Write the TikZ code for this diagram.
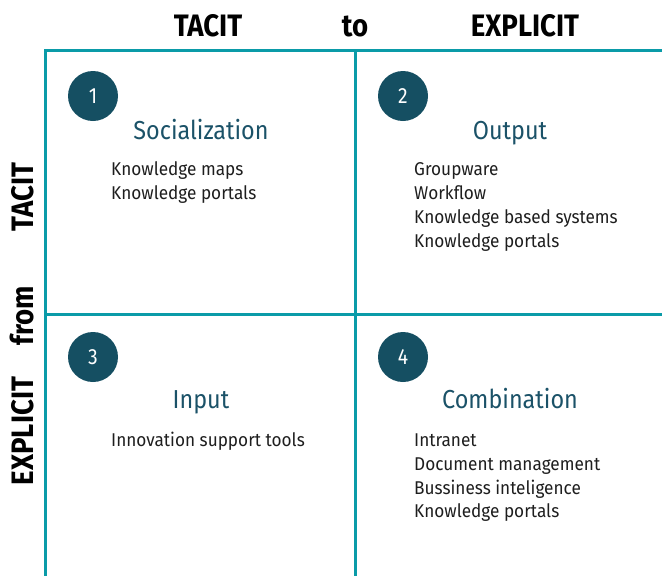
\documentclass[tikz,border=0pt]{standalone}
\usepackage{fontspec}
\setmainfont{Fira Sans}[FakeStretch=0.88]
\newfontfamily\headfont{Fira Sans}[FakeStretch=0.89,UprightFont=* Bold]
\newfontfamily\titlefont{Fira Sans}[FakeStretch=0.9]
\newfontfamily\itemfont{Fira Sans}[FakeStretch=0.93]
\definecolor{gridteal}{HTML}{0A9BA8}
\definecolor{badge}{HTML}{154F62}
\definecolor{titleblue}{HTML}{1B5268}
\definecolor{itemgray}{HTML}{1E1E1E}
\tikzset{
  gridline/.style={gridteal,line width=3pt},
  axislabel/.style={font=\headfont\fontsize{31}{31}\selectfont,text=black,inner sep=0pt},
  numbadge/.style={circle,fill=badge,minimum size=50pt,inner sep=0pt,text=white,font=\fontsize{22}{22}\selectfont},
  quadtitle/.style={font=\titlefont\fontsize{26}{26}\selectfont,text=titleblue,inner sep=0pt,anchor=base},
  item/.style={font=\itemfont\fontsize{18.5}{20}\selectfont,text=itemgray,inner sep=0pt,anchor=base west},
}
\begin{document}
\begin{tikzpicture}[x=1pt,y=-1pt]
\useasboundingbox (0,0) rectangle (662,576);
% grid
\coordinate (tl) at (45,50);
\coordinate (tr) at (662,50);
\coordinate (bl) at (45,576);
\coordinate (mt) at (355,50);
\coordinate (mb) at (355,576);
\coordinate (ml) at (45,314);
\coordinate (mr) at (662,314);
\draw[gridline] (tr) -- (tl) -- (bl);
\draw[gridline] (mt) -- (mb);
\draw[gridline] (ml) -- (mr);
% axis labels
\node[axislabel,anchor=base] (xt) at (208,36) {TACIT};
\node[axislabel,anchor=base] (xto) at (355,36) {to};
\node[axislabel,anchor=base] (xe) at (525,36) {EXPLICIT};
\node[axislabel,rotate=90,anchor=base] (yt) at (33,197) {TACIT};
\node[axislabel,rotate=90,anchor=base] (yf) at (33,316) {from};
\node[axislabel,rotate=90,anchor=base] (ye) at (33,431) {EXPLICIT};
% badges
\node[numbadge] (n1) at (93,96) {1};
\node[numbadge] (n2) at (403,96) {2};
\node[numbadge] (n3) at (93,357) {3};
\node[numbadge] (n4) at (403,357) {4};
% titles
\node[quadtitle] (t1) at (201,139) {Socialization};
\node[quadtitle] (t2) at (510,139) {Output};
\node[quadtitle] (t3) at (201,408) {Input};
\node[quadtitle] (t4) at (510,408) {Combination};
% items
\node[item] (a1) at (111,175) {Knowledge maps};
\node[item] (a2) at (111,199) {Knowledge portals};
\node[item] (b1) at (414,175) {Groupware};
\node[item] (b2) at (414,199) {Workflow};
\node[item] (b3) at (414,223) {Knowledge based systems};
\node[item] (b4) at (414,247) {Knowledge portals};
\node[item] (c1) at (111,446) {Innovation support tools};
\node[item] (d1) at (414,446) {Intranet};
\node[item] (d2) at (414,470) {Document management};
\node[item] (d3) at (414,494) {Bussiness inteligence};
\node[item] (d4) at (414,517) {Knowledge portals};
\end{tikzpicture}
\end{document}
